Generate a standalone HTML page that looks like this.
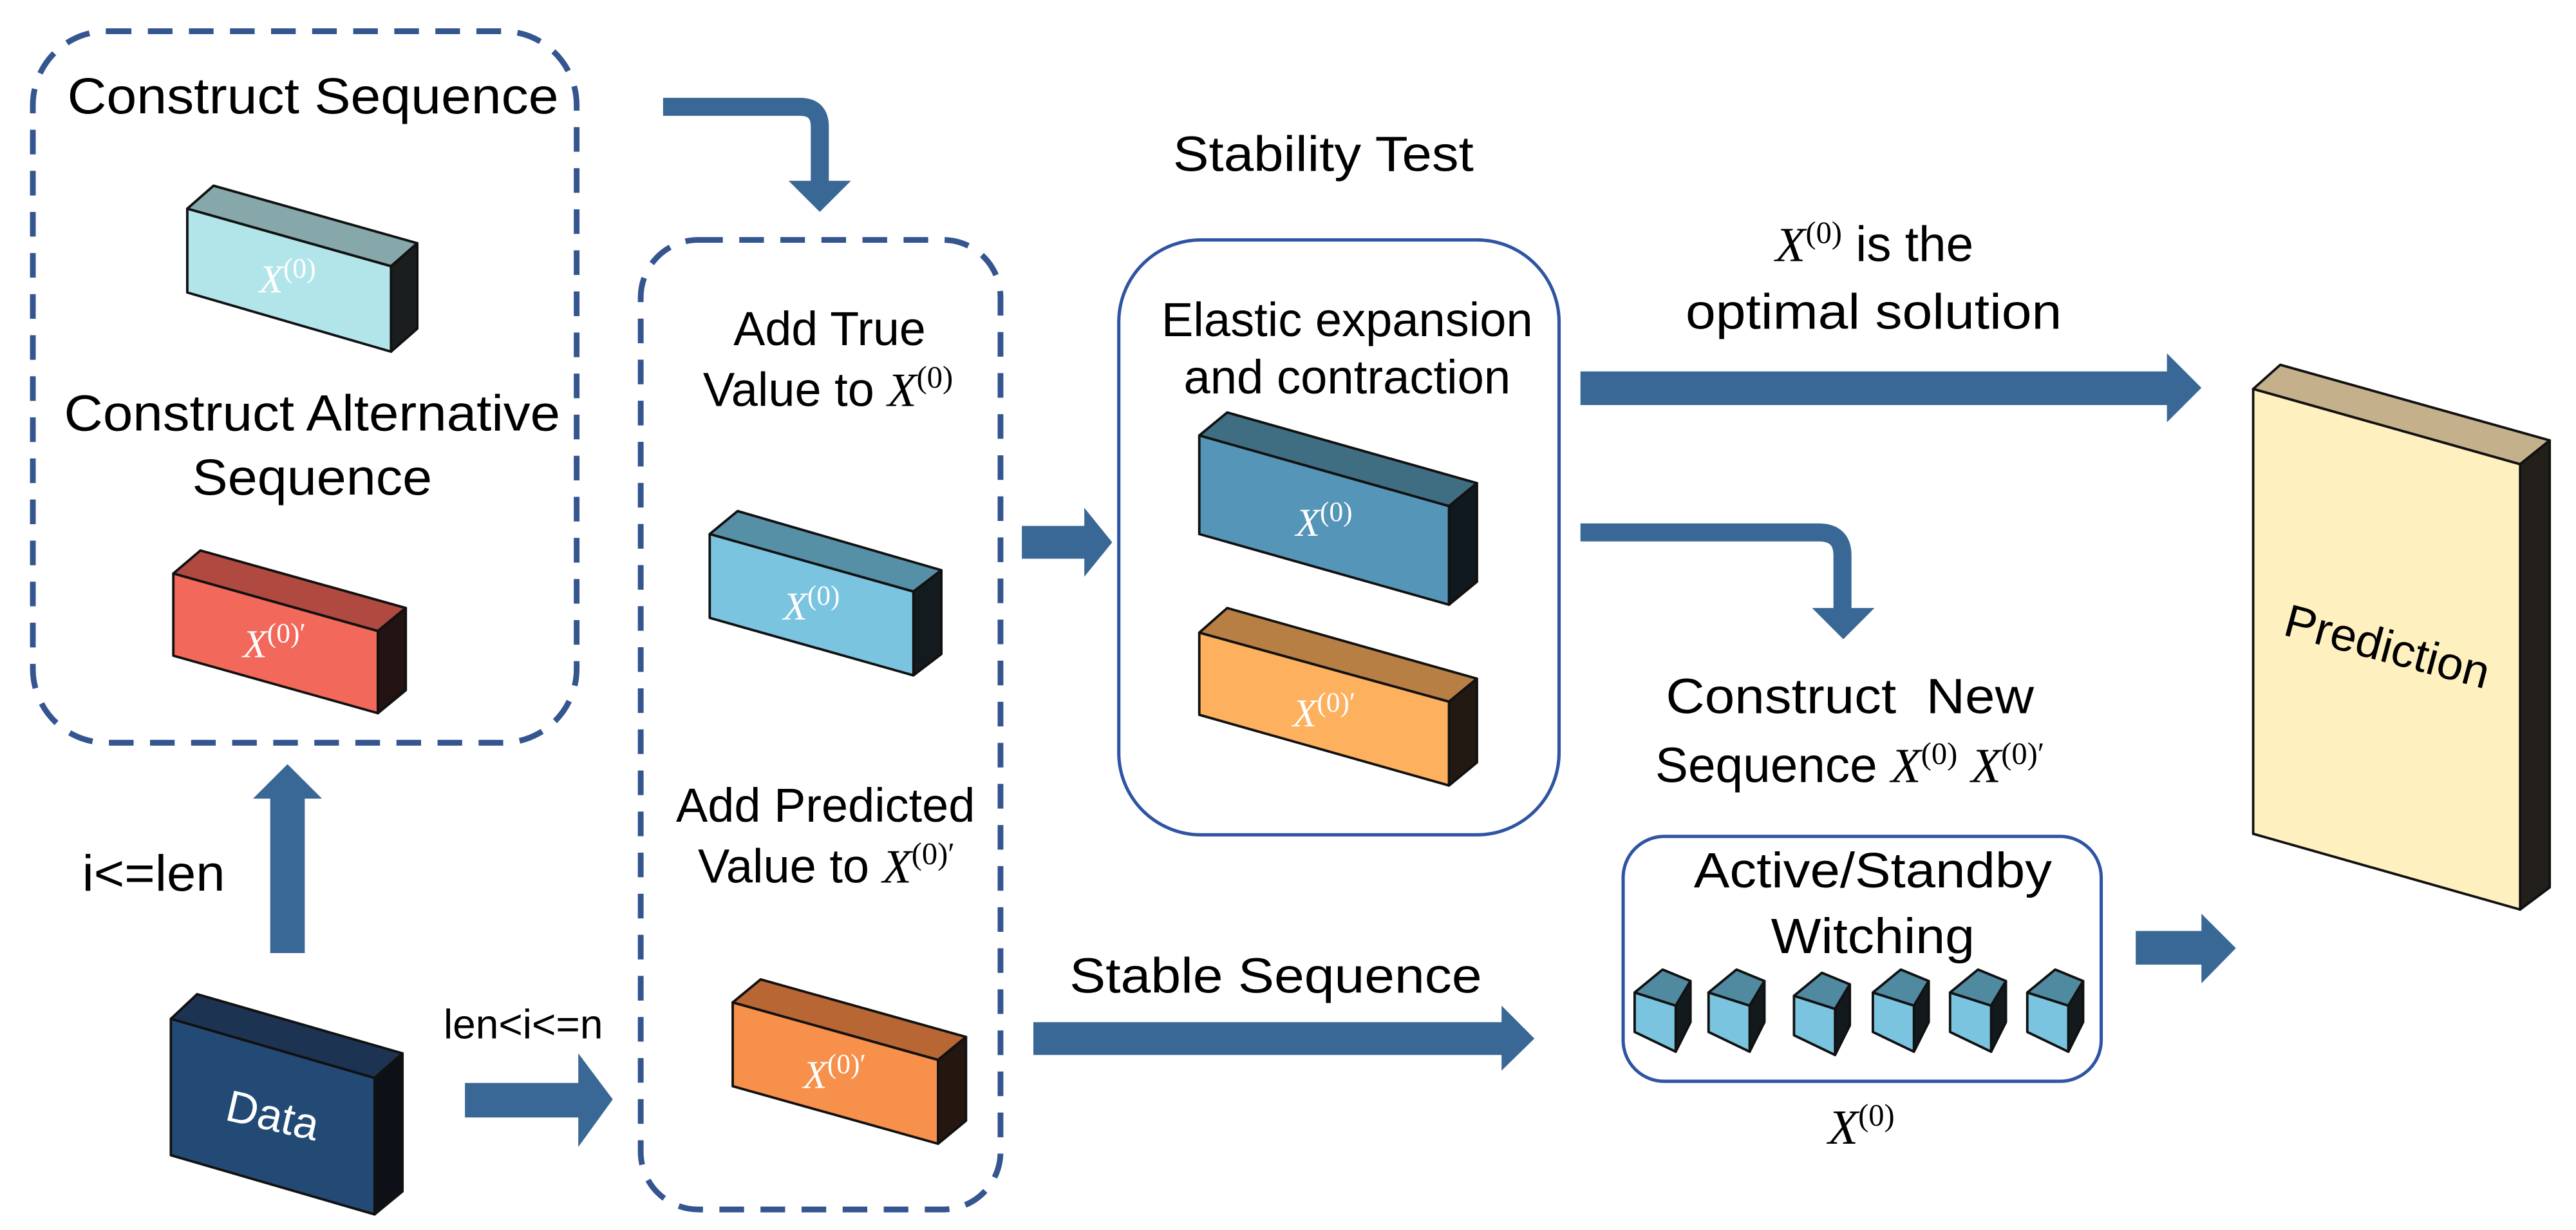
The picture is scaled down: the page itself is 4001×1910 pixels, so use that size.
<!DOCTYPE html>
<html><head><meta charset="utf-8">
<style>
html,body{margin:0;padding:0;background:#fff;}
svg{display:block;}
.t{font-family:"Liberation Sans",sans-serif;fill:#000;}
.m{font-family:"Liberation Serif",serif;font-style:italic;}
.s{font-family:"Liberation Serif",serif;font-style:normal;}
.w{fill:#fff;}
</style></head>
<body>
<svg width="4001" height="1910" viewBox="0 0 1568 748.5" preserveAspectRatio="none" xmlns="http://www.w3.org/2000/svg">
<rect x="0" y="0" width="1568" height="749" fill="#fff"/>

<!-- Dashed box 1 -->
<rect x="20" y="19" width="331" height="433" rx="45" fill="none" stroke="#34558f" stroke-width="3.5" stroke-dasharray="15,10"/>
<text class="t" x="190.5" y="69" font-size="31" text-anchor="middle" textLength="299" lengthAdjust="spacingAndGlyphs">Construct Sequence</text>

<!-- Cyan box -->
<g stroke="#111" stroke-width="1.5" stroke-linejoin="round">
<polygon points="114,127 130,113 254,148 238,162" fill="#86a8aa"/>
<polygon points="238,162 254,148 254,200 238,214" fill="#1a1e1e"/>
<polygon points="114,127 238,162 238,214 114,178" fill="#b2e5ea"/>
</g>
<text class="w" x="175" y="178" font-size="24" text-anchor="middle"><tspan class="m">X</tspan><tspan class="s" font-size="17" dy="-9">(0)</tspan></text>

<text class="t" x="190" y="262" font-size="31" text-anchor="middle" textLength="302" lengthAdjust="spacingAndGlyphs">Construct Alternative</text>
<text class="t" x="190" y="301" font-size="31" text-anchor="middle" textLength="146" lengthAdjust="spacingAndGlyphs">Sequence</text>

<!-- Red box -->
<g stroke="#111" stroke-width="1.5" stroke-linejoin="round">
<polygon points="105.5,349 122,335 247,370 230,384" fill="#b04a40"/>
<polygon points="230,384 247,370 247,420 230,434" fill="#231313"/>
<polygon points="105.5,349 230,384 230,434 105.5,399" fill="#f2685a"/>
</g>
<text class="w" x="167" y="400" font-size="24" text-anchor="middle"><tspan class="m">X</tspan><tspan class="s" font-size="17" dy="-9">(0)′</tspan></text>

<!-- Up arrow -->
<polygon points="164.5,580 185.5,580 185.5,486 196,486 175,465 154,486 164.5,486" fill="#3a6896"/>
<text class="t" x="50" y="542" font-size="31" textLength="87" lengthAdjust="spacingAndGlyphs">i&lt;=len</text>

<!-- Data box -->
<g stroke="#111" stroke-width="1.5" stroke-linejoin="round">
<polygon points="104,620 120,605 245,641 228,656" fill="#1c3352"/>
<polygon points="228,656 245,641 245,725 228,739" fill="#0d1117"/>
<polygon points="104,620 228,656 228,739 104,703" fill="#234a75"/>
</g>
<text class="t w" x="166" y="688" font-size="27" text-anchor="middle" transform="rotate(13 166 679)" style="fill:#fff">Data</text>

<text class="t" x="270" y="632" font-size="25" textLength="97" lengthAdjust="spacingAndGlyphs">len&lt;i&lt;=n</text>
<polygon points="283,659 352,659 352,641 373,669 352,698 352,680 283,680" fill="#3a6896"/>

<!-- Curved arrow top -->
<path d="M403.6,65 L487,65 Q499,65 499,77 L499,112" fill="none" stroke="#3a6896" stroke-width="11"/>
<polygon points="480,110 518,110 499,129" fill="#3a6896"/>

<!-- Dashed box 2 -->
<rect x="390" y="146" width="219" height="590" rx="35" fill="none" stroke="#34558f" stroke-width="3.5" stroke-dasharray="15,10"/>
<text class="t" x="505" y="210" font-size="29" text-anchor="middle" textLength="117" lengthAdjust="spacingAndGlyphs">Add True</text>
<text class="t" x="504" y="247" font-size="29" text-anchor="middle">Value to <tspan class="m" font-size="29">X</tspan><tspan class="s" font-size="19" dy="-11">(0)</tspan></text>

<!-- light blue box -->
<g stroke="#111" stroke-width="1.5" stroke-linejoin="round">
<polygon points="432,325 449,311 573,347 556,360" fill="#5690a6"/>
<polygon points="556,360 573,347 573,398 556,411" fill="#141b1e"/>
<polygon points="432,325 556,360 556,411 432,376" fill="#7ac4e0"/>
</g>
<text class="w" x="494" y="377" font-size="24" text-anchor="middle"><tspan class="m">X</tspan><tspan class="s" font-size="17" dy="-9">(0)</tspan></text>

<text class="t" x="502.5" y="500" font-size="29" text-anchor="middle" textLength="182" lengthAdjust="spacingAndGlyphs">Add Predicted</text>
<text class="t" x="503" y="537" font-size="29" text-anchor="middle">Value to <tspan class="m" font-size="29">X</tspan><tspan class="s" font-size="19" dy="-11">(0)′</tspan></text>

<!-- orange box -->
<g stroke="#111" stroke-width="1.5" stroke-linejoin="round">
<polygon points="446,610 463,596 588,631 571,645" fill="#b76634"/>
<polygon points="571,645 588,631 588,682 571,696" fill="#23170f"/>
<polygon points="446,610 571,645 571,696 446,661" fill="#f7904a"/>
</g>
<text class="w" x="508" y="662" font-size="24" text-anchor="middle"><tspan class="m">X</tspan><tspan class="s" font-size="17" dy="-9">(0)′</tspan></text>

<!-- arrow to stability -->
<polygon points="622,320 660,320 660,309 677,330 660,351 660,340 622,340" fill="#3a6896"/>

<text class="t" x="805.5" y="104" font-size="30" text-anchor="middle" textLength="183" lengthAdjust="spacingAndGlyphs">Stability Test</text>
<rect x="681" y="146" width="268" height="362" rx="50" fill="none" stroke="#2f54a3" stroke-width="2"/>
<text class="t" x="820" y="204.6" font-size="29" text-anchor="middle" textLength="226" lengthAdjust="spacingAndGlyphs">Elastic expansion</text>
<text class="t" x="820" y="239.5" font-size="29" text-anchor="middle" textLength="199" lengthAdjust="spacingAndGlyphs">and contraction</text>

<!-- steel blue box -->
<g stroke="#111" stroke-width="1.5" stroke-linejoin="round">
<polygon points="730,265 747,251 899,294 882,308" fill="#3f6e83"/>
<polygon points="882,308 899,294 899,354 882,368" fill="#101820"/>
<polygon points="730,265 882,308 882,368 730,325" fill="#5595b8"/>
</g>
<text class="w" x="806" y="326" font-size="24" text-anchor="middle"><tspan class="m">X</tspan><tspan class="s" font-size="17" dy="-9">(0)</tspan></text>

<!-- light orange box -->
<g stroke="#111" stroke-width="1.5" stroke-linejoin="round">
<polygon points="730,385 747,370 899,413 882,427" fill="#b87f45"/>
<polygon points="882,427 899,413 899,464 882,478" fill="#221a12"/>
<polygon points="730,385 882,427 882,478 730,435" fill="#fdb05e"/>
</g>
<text class="w" x="806" y="442" font-size="24" text-anchor="middle"><tspan class="m">X</tspan><tspan class="s" font-size="17" dy="-9">(0)′</tspan></text>

<!-- big arrow to prediction -->
<polygon points="962,226 1319,226 1319,215 1340,236 1319,257 1319,246.5 962,246.5" fill="#3a6896"/>
<text class="t" x="1141" y="159" font-size="30" text-anchor="middle"><tspan class="m" font-size="30">X</tspan><tspan class="s" font-size="19" dy="-11">(0)</tspan><tspan dy="11"> is the</tspan></text>
<text class="t" x="1140.5" y="200" font-size="30" text-anchor="middle" textLength="229" lengthAdjust="spacingAndGlyphs">optimal solution</text>

<!-- curved arrow 2 -->
<path d="M962,324 L1107,324 Q1121.5,324 1121.5,338 L1121.5,372" fill="none" stroke="#3a6896" stroke-width="11"/>
<polygon points="1103,370 1141,370 1122,389" fill="#3a6896"/>

<text class="t" x="1126" y="434" font-size="30" text-anchor="middle" textLength="224" lengthAdjust="spacingAndGlyphs" xml:space="preserve">Construct  New</text>
<text class="t" x="1126" y="476" font-size="30" text-anchor="middle">Sequence <tspan class="m" font-size="30">X</tspan><tspan class="s" font-size="19" dy="-11">(0)</tspan><tspan dy="11"> </tspan><tspan class="m" font-size="30">X</tspan><tspan class="s" font-size="19" dy="-11">(0)′</tspan></text>

<rect x="988" y="509" width="291" height="149" rx="25" fill="none" stroke="#2f54a3" stroke-width="2"/>
<text class="t" x="1140" y="540" font-size="30" text-anchor="middle" textLength="218" lengthAdjust="spacingAndGlyphs">Active/Standby</text>
<text class="t" x="1140" y="580" font-size="30" text-anchor="middle" textLength="124" lengthAdjust="spacingAndGlyphs">Witching</text>

<!-- cubes -->
<defs>
<g id="cube" stroke="#111" stroke-width="1.5" stroke-linejoin="round">
<polygon points="0,14 17,0 34,7 25,22" fill="#4f8aa0"/>
<polygon points="25,22 34,7 34,32 25,50" fill="#131a1e"/>
<polygon points="0,14 25,22 25,50 0,38" fill="#7ac4e0"/>
</g>
</defs>
<use href="#cube" x="995" y="590"/>
<use href="#cube" x="1040" y="590"/>
<use href="#cube" x="1092" y="592"/>
<use href="#cube" x="1140" y="590"/>
<use href="#cube" x="1187" y="590"/>
<use href="#cube" x="1234" y="590"/>

<text x="1133" y="696" font-size="30" text-anchor="middle"><tspan class="m">X</tspan><tspan class="s" font-size="19" dy="-11">(0)</tspan></text>

<text class="t" x="776.5" y="604" font-size="30" text-anchor="middle" textLength="251" lengthAdjust="spacingAndGlyphs">Stable Sequence</text>
<polygon points="629,622 914,622 914,612 934,632 914,651.5 914,642 629,642" fill="#3a6896"/>

<polygon points="1300,566.5 1340,566.5 1340,556 1361,577 1340,598.4 1340,587 1300,587" fill="#3a6896"/>

<!-- Prediction board -->
<g stroke="#111" stroke-width="1.5" stroke-linejoin="round">
<polygon points="1371.5,236.7 1388,222 1552,268 1534,282.5" fill="#c4b08a"/>
<polygon points="1534,282.5 1552,268 1552,540 1534,553.5" fill="#231f1a"/>
<polygon points="1371.5,236.7 1534,282.5 1534,553.5 1371.5,507.4" fill="#fff0c0"/>
</g>
<text class="t" x="1453" y="403" font-size="28" text-anchor="middle" transform="rotate(15 1453 394)" textLength="128" lengthAdjust="spacingAndGlyphs">Prediction</text>
</svg>
</body></html>
